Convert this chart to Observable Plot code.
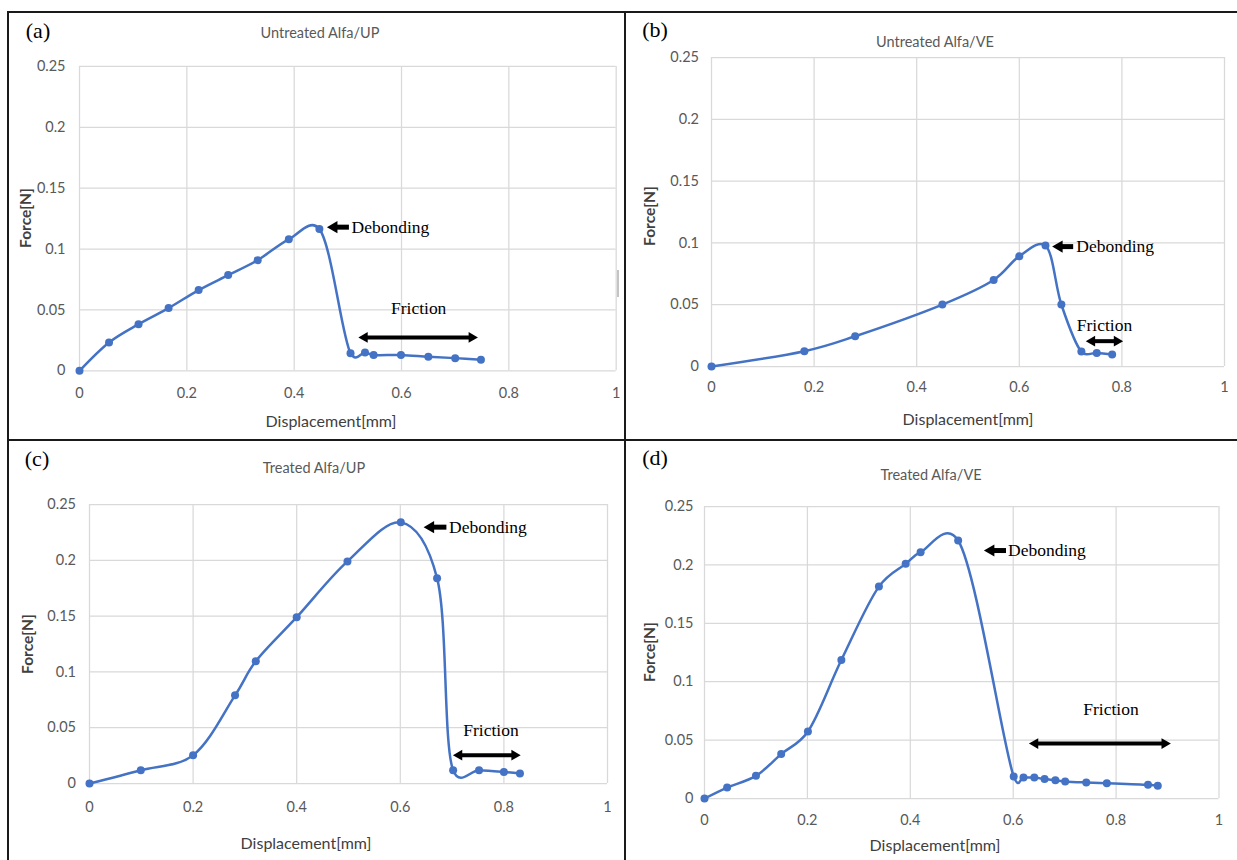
<!DOCTYPE html>
<html><head><meta charset="utf-8">
<script src="https://cdn.jsdelivr.net/npm/d3@7"></script>
<script src="https://cdn.jsdelivr.net/npm/@observablehq/plot@0.6"></script>
<style>
body{margin:0;background:#fff;}
#page{position:relative;width:1237px;height:860px;overflow:hidden;background:#fff;}
.ln{position:absolute;background:#1a1a1a;}
.txt{position:absolute;white-space:nowrap;transform:translate(-50%,-50%);line-height:1;}
.title{font-family:Lato,sans-serif;font-size:14.5px;color:#595959;}
.xlab{font-family:Lato,sans-serif;font-size:16px;color:#404040;}
.ylab{font-family:Lato,sans-serif;font-size:15.5px;font-weight:bold;color:#404040;transform:translate(-50%,-50%) rotate(-90deg);}
.tag{font-family:"Liberation Serif",serif;font-size:22px;color:#000;}
</style></head><body><div id="page"></div>
<script>
// ---- data ----
const tags = ["(a)", "(b)", "(c)", "(d)"];
const titles = ["Untreated Alfa/UP", "Untreated Alfa/VE", "Treated Alfa/UP", "Treated Alfa/VE"];
const xLabel = "Displacement[mm]";
const yLabel = "Force[N]";
const xTicks = [0, 0.2, 0.4, 0.6, 0.8, 1];
const yTicks = [0, 0.05, 0.1, 0.15, 0.2, 0.25];

const dispA  = [0, 0.055, 0.11, 0.166, 0.222, 0.277, 0.332, 0.39, 0.447, 0.505, 0.532, 0.548, 0.599, 0.65, 0.70, 0.748];
const forceA = [0, 0.0233, 0.0383, 0.0515, 0.0663, 0.0786, 0.0909, 0.108, 0.1164, 0.0145, 0.015, 0.013, 0.013, 0.0115, 0.0104, 0.009];

const dispB  = [0, 0.181, 0.28, 0.45, 0.55, 0.60, 0.651, 0.682, 0.721, 0.751, 0.781];
const forceB = [0, 0.0124, 0.0245, 0.0501, 0.070, 0.0892, 0.0978, 0.0501, 0.0121, 0.011, 0.0097];

const dispC  = [0, 0.099, 0.20, 0.281, 0.321, 0.40, 0.498, 0.601, 0.671, 0.702, 0.752, 0.80, 0.831];
const forceC = [0, 0.0119, 0.0254, 0.079, 0.1095, 0.149, 0.199, 0.234, 0.184, 0.0119, 0.0119, 0.0104, 0.009];

const dispD  = [0, 0.044, 0.10, 0.149, 0.201, 0.266, 0.339, 0.391, 0.42, 0.493, 0.601, 0.62, 0.641, 0.661, 0.682, 0.701, 0.742, 0.782, 0.862, 0.881];
const forceD = [0, 0.0094, 0.0194, 0.038, 0.0574, 0.1186, 0.1814, 0.2009, 0.2109, 0.2209, 0.0189, 0.018, 0.018, 0.0166, 0.0157, 0.0146, 0.0137, 0.0131, 0.0117, 0.0109];

const disp = [dispA, dispB, dispC, dispD];
const force = [forceA, forceB, forceC, forceD];

// annotations (data units)
const debondText = "Debonding";
const frictionText = "Friction";
const debondTipX  = [0.461, 0.664, 0.645, 0.543];
const debondTailX = [0.502, 0.705, 0.689, 0.586];
const debondY     = [0.118, 0.097, 0.2297, 0.2123];
const debondTextX = [0.507, 0.711, 0.694, 0.590];
const frictionX1  = [0.52, 0.73, 0.702, 0.631];
const frictionX2  = [0.742, 0.802, 0.832, 0.906];
const frictionY   = [0.0274, 0.0205, 0.0254, 0.047];
const frictionTextX = [0.632, 0.766, 0.775, 0.79];
const frictionTextY = [0.0515, 0.033, 0.0477, 0.0766];

// ---- layout (pixels) ----
const layout = [
  {fx0: 78.7, fx1: 615.4, fy0: 65.7, fy1: 370, ypad: 14, xpad: 17, title: [320, 33], tag: [38, 31], ylab: [26, 218], xlab: [331, 421]},
  {fx0: 711, fx1: 1224, fy0: 57, fy1: 366, ypad: 12.5, xpad: 15, title: [935, 42], tag: [655, 30], ylab: [649.5, 216], xlab: [968, 419]},
  {fx0: 89, fx1: 607, fy0: 504, fy1: 783, ypad: 13.5, xpad: 18, title: [314, 468], tag: [37, 459], ylab: [28, 644], xlab: [306, 843]},
  {fx0: 703.5, fx1: 1218, fy0: 506, fy1: 798, ypad: 11, xpad: 16, title: [931, 475], tag: [655, 458], ylab: [649.5, 652], xlab: [935, 845]}
];

const page = document.getElementById("page");
function addDiv(cls, text, cx, cy) {
  const d = document.createElement("div");
  d.className = "txt " + cls;
  d.textContent = text;
  d.style.left = cx + "px";
  d.style.top = cy + "px";
  page.appendChild(d);
}
function addLine(x, y, w, h, color) {
  const d = document.createElement("div");
  d.className = "ln";
  d.style.left = x + "px"; d.style.top = y + "px";
  d.style.width = w + "px"; d.style.height = h + "px";
  if (color) d.style.background = color;
  page.appendChild(d);
}

const blue = "#4472C4";
const fmt = d => String(d);

layout.forEach((L, i) => {
  const mL = 60, mR = 20, mT = 20, mB = 45;
  const fw = L.fx1 - L.fx0;
  const W = fw + mL + mR, H = (L.fy1 - L.fy0) + mT + mB;
  const data = disp[i].map((x, j) => ({x, y: force[i][j]}));
  const hd = 7 / fw, hf = 6 / fw;
  const deb = [{tip: debondTipX[i], tail: debondTailX[i], y: debondY[i], tx: debondTextX[i]}];
  const fr = [{x1: frictionX1[i], x2: frictionX2[i], y: frictionY[i], tx: frictionTextX[i], ty: frictionTextY[i]}];
  const serif = {fontFamily: "Liberation Serif", fontSize: 17.5, fill: "#000"};
  const chart = Plot.plot({
    width: W, height: H,
    marginLeft: mL, marginRight: mR, marginTop: mT, marginBottom: mB,
    x: {domain: [0, 1]},
    y: {domain: [0, 0.25]},
    style: {fontFamily: "Lato, sans-serif", fontSize: "14.5px", color: "#595959", background: "none", overflow: "visible"},
    marks: [
      Plot.gridX(xTicks, {stroke: "#d9d9d9", strokeOpacity: 1, strokeWidth: 1.25}),
      Plot.gridY(yTicks, {stroke: "#d9d9d9", strokeOpacity: 1, strokeWidth: 1.25}),
      Plot.axisX(xTicks, {tickSize: 0, tickPadding: L.xpad, tickFormat: fmt, label: null}),
      Plot.axisY(yTicks, {tickSize: 0, tickPadding: L.ypad, tickFormat: fmt, label: null}),
      Plot.line(data, {x: "x", y: "y", curve: "catmull-rom", tension: 0.2, stroke: blue, strokeWidth: 2.5}),
      Plot.dot(data, {x: "x", y: "y", r: 4, fill: blue}),
      // debonding arrow
      Plot.link(deb, {x1: "tail", x2: d => d.tip + hd, y1: "y", y2: "y", stroke: "#000", strokeWidth: 5}),
      Plot.dot(deb, {x: "tip", y: "y", symbol: "triangle", rotate: -90, r: 4.5, fill: "#000", dx: 7}),
      Plot.text(deb, {x: "tx", y: "y", text: () => debondText, textAnchor: "start", ...serif}),
      // friction double arrow
      Plot.link(fr, {x1: d => d.x1 + hf, x2: d => d.x2 - hf, y1: "y", y2: "y", stroke: "#000", strokeWidth: 4}),
      Plot.dot(fr, {x: "x1", y: "y", symbol: "triangle", rotate: -90, r: 4, fill: "#000", dx: 6}),
      Plot.dot(fr, {x: "x2", y: "y", symbol: "triangle", rotate: 90, r: 4, fill: "#000", dx: -6}),
      Plot.text(fr, {x: "tx", y: "ty", text: () => frictionText, textAnchor: "middle", ...serif})
    ]
  });
  chart.style.position = "absolute";
  chart.style.left = (L.fx0 - mL) + "px";
  chart.style.top = (L.fy0 - mT) + "px";
  page.appendChild(chart);

  addDiv("title", titles[i], L.title[0], L.title[1]);
  addDiv("tag", tags[i], L.tag[0], L.tag[1]);
  addDiv("ylab", yLabel, L.ylab[0], L.ylab[1]);
  addDiv("xlab", xLabel, L.xlab[0], L.xlab[1]);
});

// panel borders
addLine(7, 10.5, 1230, 2);
addLine(7, 10.5, 2, 850);
addLine(624, 10.5, 2, 850);
addLine(7, 439, 1230, 2);
// small scan artifact at right of panel (a)
addLine(617, 270, 1.5, 27, "#c4c4c4");
</script>
</body></html>
